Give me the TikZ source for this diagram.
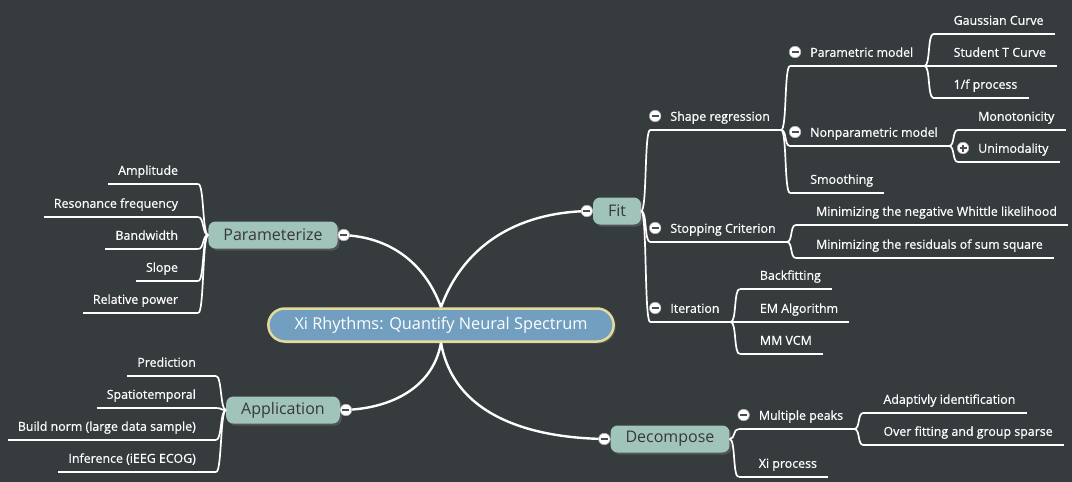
\documentclass[tikz,border=0pt]{standalone}
\usepackage{fontspec}
\setmainfont{Open Sans}
\newfontface\leafface{Open Sans}[FakeBold=0.6]
\usetikzlibrary{shapes.misc,shadows}

\definecolor{bgcol}{HTML}{363B3E}
\definecolor{rootfill}{HTML}{729FBF}
\definecolor{rootline}{HTML}{E3DA9C}
\definecolor{topicfill}{HTML}{A0C3BA}
\definecolor{topictext}{HTML}{383838}

\tikzset{
  trunk/.style={draw=white, line width=2.4pt},
  branch/.style={draw=white, line width=1.7pt},
  topic/.style={rounded corners=7pt, fill=topicfill, text=topictext,
    font=\fontsize{16}{19}\selectfont, minimum height=27pt, inner xsep=15pt, inner ysep=0pt,
    drop shadow={shadow xshift=2pt, shadow yshift=-2pt, opacity=.4}},
  leaf/.style={inner sep=0pt, text=white, font=\leafface\fontsize{12.4}{14}\selectfont,
    text height=10pt, text depth=9pt},
  rleaf/.style={leaf, anchor=south west,
    execute at begin node={\hspace*{20pt}}, execute at end node={\hspace*{11pt}}},
  lleaf/.style={leaf, anchor=south east,
    execute at begin node={\hspace*{10pt}}, execute at end node={\hspace*{20pt}}},
  fold/.style={circle, fill=white, draw=gray!60, line width=.6pt, minimum size=11.5pt, inner sep=0pt,
    path picture={\draw[black!70, line width=1.4pt]
      ([xshift=-3.5pt]path picture bounding box.center) -- ([xshift=3.5pt]path picture bounding box.center);}},
  foldplus/.style={fold, path picture={\draw[black!70, line width=1.4pt]
      ([xshift=-3.5pt]path picture bounding box.center) -- ([xshift=3.5pt]path picture bounding box.center)
      ([yshift=-3.5pt]path picture bounding box.center) -- ([yshift=3.5pt]path picture bounding box.center);}}
}

\begin{document}
\begin{tikzpicture}[x=1pt, y=1pt]
  \fill[bgcol] (0,0) rectangle (1072,-482);

  % root and main topics
  \node[rounded rectangle, draw=rootline, line width=2.5pt, fill=rootfill, text=white,
    font=\fontsize{16.3}{19}\selectfont, minimum height=33pt, inner xsep=24pt,
    drop shadow={shadow xshift=2pt, shadow yshift=-2pt, opacity=.4}]
    (root) at (441,-325) {Xi Rhythms: Quantify Neural Spectrum};
  \node[topic] (fit) at (617,-211) {Fit};
  \node[topic] (par) at (273,-235) {Parameterize};
  \node[topic] (app) at (283,-410) {Application};
  \node[topic] (dec) at (670,-439) {Decompose};
  \coordinate (fit-e) at (fit.east);
  \coordinate (dec-e) at (dec.east);

  \draw[trunk] (root.north) to[out=70,in=180] (fit.west);
  \draw[trunk] (root.north) to[out=110,in=0] (par.east);
  \draw[trunk] (root.south) to[out=-100,in=0] (app.east);
  \draw[trunk] (root.south) to[out=-80,in=180] (dec.west);

  % right side
  \foreach \p/\n/\y/\t in {
      fit/sr/130/{Shape regression}, fit/sc/242/{Stopping Criterion}, fit/it/322/{Iteration},
      sr/pm/66/{Parametric model}, sr/npm/146/{Nonparametric model}, sr/sm/193/{Smoothing},
      pm/gc/34/{Gaussian Curve}, pm/st/66/{Student T Curve}, pm/of/98/{1/f process},
      npm/mono/130/{Monotonicity}, npm/uni/162/{Unimodality},
      sc/mnw/225/{Minimizing the negative Whittle likelihood},
      sc/mrs/258/{Minimizing the residuals of sum square},
      it/bf/289/{Backfitting}, it/em/322/{EM Algorithm}, it/mm/354/{MM VCM},
      dec/mp/429/{Multiple peaks}, dec/xp/477/{Xi process},
      mp/ai/413/{Adaptivly identification}, mp/ofg/445/{Over fitting and group sparse}} {
    \node[rleaf, xshift=9pt] (\n) at (\p-e |- 0,-\y) {\t};
    \coordinate (\n-e) at (\n.south east);
    \draw[branch] (\n.south west) -- (\n.south east);
    \draw[branch] (\p-e) .. controls +(6,0) and +(-6,0) .. (\n.south west);
  }

  % left side
  \foreach \p/\n/\y/\t in {
      par/amp/184/{Amplitude}, par/rf/217/{Resonance frequency}, par/bw/249/{Bandwidth},
      par/slp/281/{Slope}, par/rp/313/{Relative power},
      app/pre/376/{Prediction}, app/spt/408/{Spatiotemporal},
      app/bn/440/{Build norm (large data sample)}, app/inf/472/{Inference (iEEG ECOG)}} {
    \node[lleaf, xshift=-10pt] (\n) at (\p.west |- 0,-\y) {\t};
    \draw[branch] (\n.south west) -- (\n.south east);
    \draw[branch] (\p.west) .. controls +(-6,0) and +(6,0) .. (\n.south east);
  }

  % collapse markers
  \foreach \n in {sr,sc,it,pm,npm,mp}
    \node[fold] (\n-f) at ([xshift=5pt,yshift=14pt]\n.south west) {};
  \node[foldplus] (uni-f) at ([xshift=5pt,yshift=14pt]uni.south west) {};
  \node[fold] (fit-f) at ([xshift=-6pt]fit.west) {};
  \node[fold] (dec-f) at ([xshift=-6pt]dec.west) {};
  \node[fold] (par-f) at ([xshift=6pt]par.east) {};
  \node[fold] (app-f) at ([xshift=6pt]app.east) {};
\end{tikzpicture}
\end{document}
